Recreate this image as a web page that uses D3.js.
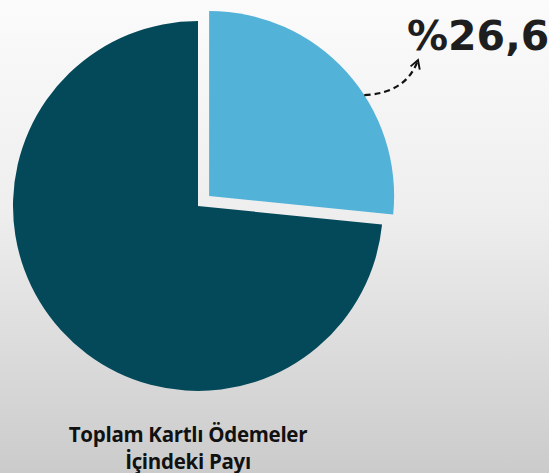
<!DOCTYPE html>
<html>
<head>
<meta charset="utf-8">
<script src="https://cdn.jsdelivr.net/npm/d3@7.9.0/dist/d3.min.js"></script>
<style>
  html, body { margin: 0; padding: 0; }
  body { width: 549px; height: 473px; overflow: hidden; }
</style>
</head>
<body>
<div id="chart"></div>
<script>
// Chart data
const labels = ['Kartlı ödemeler payı', 'Diğer'];
const values = [26.6, 73.4];
const calloutText = '%26,6';
const captionLines = ['Toplam Kartlı Ödemeler', 'İçindeki Payı'];

const width = 549;
const height = 473;
const cx = 198, cy = 206;
const radius = 185;
const explode = 15;
const colors = ['#52b2d8', '#04495a'];

const svg = d3.select('#chart')
    .append('svg')
    .attr('width', width)
    .attr('height', height)
    .attr('viewBox', `0 0 ${width} ${height}`);

// background gradient
const defs = svg.append('defs');
const grad = defs.append('linearGradient')
    .attr('id', 'bg')
    .attr('x1', 0).attr('y1', 0).attr('x2', 0).attr('y2', 1);
grad.append('stop').attr('offset', '0%').attr('stop-color', '#fbfbfb');
grad.append('stop').attr('offset', '45%').attr('stop-color', '#eeeeee');
grad.append('stop').attr('offset', '100%').attr('stop-color', '#cbcbcb');

defs.append('marker')
    .attr('id', 'arrowhead')
    .attr('viewBox', '0 0 10 10')
    .attr('refX', 8).attr('refY', 5)
    .attr('markerWidth', 5.5).attr('markerHeight', 5.5)
    .attr('markerUnits', 'strokeWidth')
    .attr('orient', 'auto')
    .append('path')
    .attr('d', 'M1,1 L8,5 L1,9')
    .attr('fill', 'none')
    .attr('stroke', '#111')
    .attr('stroke-width', 1.6);

svg.append('rect')
    .attr('width', width)
    .attr('height', height)
    .attr('fill', 'url(#bg)');

const pie = d3.pie().sort(null).value(d => d);
const arcs = pie(values);
const arc = d3.arc().innerRadius(0).outerRadius(radius);

const g = svg.append('g').attr('transform', `translate(${cx}, ${cy})`);

g.selectAll('path')
    .data(arcs)
    .join('path')
    .attr('d', arc)
    .attr('fill', (d, i) => colors[i])
    .attr('transform', (d, i) => {
        if (i !== 0) return null;
        // push the highlighted slice outward
        const mid = (d.startAngle + d.endAngle) / 2;
        return `translate(${Math.sin(mid) * explode}, ${-Math.cos(mid) * explode})`;
    });

// dashed arrow from the slice to the label
const hi = arcs[0];
const mid = (hi.startAngle + hi.endAngle) / 2;
const ox = cx + Math.sin(mid) * explode;
const oy = cy - Math.cos(mid) * explode;
const a = 57 * Math.PI / 180;
const start = [ox + Math.sin(a) * radius, oy - Math.cos(a) * radius];
const end = [418, 60];
svg.append('path')
    .attr('d', `M${start[0]},${start[1]} Q${start[0] + 42},${start[1] - 2} ${end[0]},${end[1]}`)
    .attr('fill', 'none')
    .attr('stroke', '#111')
    .attr('stroke-width', 2.2)
    .attr('stroke-dasharray', '6,4')
    .attr('marker-end', 'url(#arrowhead)');

svg.append('text')
    .attr('x', 407)
    .attr('y', 50)
    .attr('font-family', '"DejaVu Sans", sans-serif')
    .attr('font-weight', 700)
    .attr('font-size', 41)
    .attr('fill', '#1e1e1e')
    .text(calloutText);

svg.append('g')
    .selectAll('text')
    .data(captionLines)
    .join('text')
    .attr('x', 188)
    .attr('y', (d, i) => 442 + i * 27)
    .attr('text-anchor', 'middle')
    .attr('font-family', '"Open Sans", sans-serif')
    .attr('font-weight', 700)
    .attr('font-size', 20.5)
    .attr('letter-spacing', -0.3)
    .attr('fill', '#111')
    .text(d => d);
</script>
</body>
</html>
